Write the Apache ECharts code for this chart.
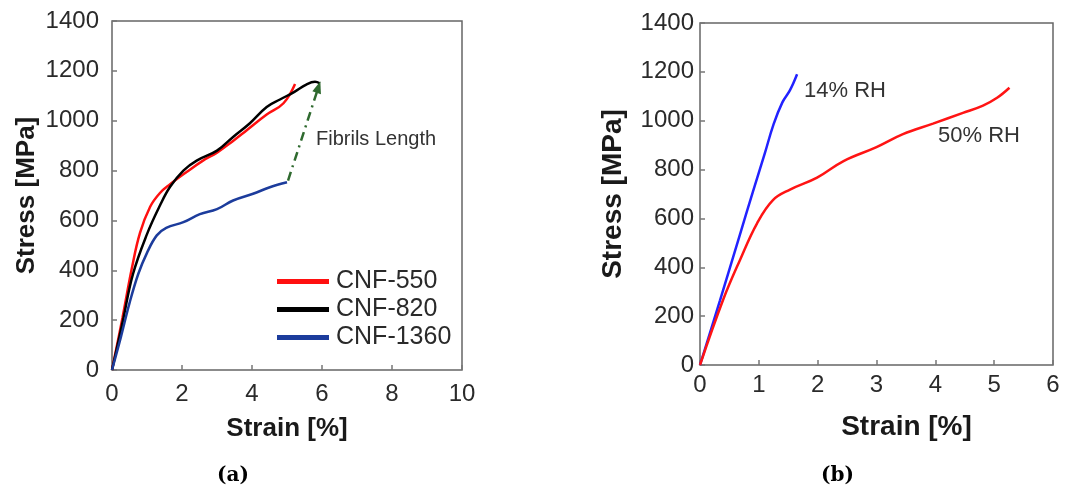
<!DOCTYPE html>
<html>
<head>
<meta charset="utf-8">
<script src="https://cdn.jsdelivr.net/npm/echarts@6/dist/echarts.min.js"></script>
<style>
  html, body { margin: 0; padding: 0; background: #fff; }
  #chart { width: 1067px; height: 498px; }
</style>
</head>
<body>
<div id="chart"></div>
<script>
// panel (a): strain [%], stress [MPa]
var cnf550 = [[0,0],[0.3,210],[0.57,410],[0.8,550],[1.09,655],[1.37,710],[1.66,745],[2.13,794],[2.6,840],[3.0,872],[3.45,918],[3.85,962],[4.42,1025],[4.9,1070],[5.23,1147]];
var cnf820 = [[0,0],[0.3,190],[0.6,385],[1.0,545],[1.37,660],[1.66,735],[2.04,800],[2.42,840],[3.0,880],[3.46,935],[3.94,990],[4.42,1055],[4.8,1085],[5.2,1115],[5.55,1145],[5.8,1156],[5.94,1150]];
var cnf1360 = [[0,0],[0.25,130],[0.5,268],[0.75,385],[1.0,470],[1.28,540],[1.55,570],[2.04,593],[2.51,625],[3.0,645],[3.46,680],[4.03,707],[4.51,733],[5.0,753]];
var arrowStart = [5.03, 760];
var arrowEnd = [5.9, 1135];

// panel (b)
var rh14 = [[0,0],[0.34,265],[0.68,535],[0.9,710],[1.1,865],[1.25,985],[1.4,1075],[1.53,1125],[1.65,1190]];
var rh50 = [[0,0],[0.39,265],[0.68,430],[0.97,580],[1.24,675],[1.53,718],[1.99,767],[2.44,835],[3.0,892],[3.45,945],[3.96,988],[4.47,1032],[4.81,1062],[5.05,1094],[5.26,1135]];

var chart = echarts.init(document.getElementById('chart'));

var tickFont = { fontFamily: 'Arial, Liberation Sans', fontSize: 24, color: '#2a2a2a' };

function plain(v) { return String(v); }

function xAx(idx, max, interval, nameGap, pad, margin, nameSize) {
    return {
        gridIndex: idx, type: 'value', min: 0, max: max, interval: interval,
        name: 'Strain [%]', nameLocation: 'middle', nameGap: nameGap,
        nameTextStyle: { padding: pad, fontFamily: 'Arial, Liberation Sans', fontWeight: 'bold', fontSize: nameSize, color: '#1a1a1a' },
        axisLine: { show: false },
        axisTick: { inside: true, length: 5, lineStyle: { color: '#777', width: 1.5 } },
        axisLabel: Object.assign({ margin: margin, formatter: plain }, tickFont),
        splitLine: { show: false }
    };
}
function yAx(idx, nameGap, margin, nameSize) {
    return {
        gridIndex: idx, type: 'value', min: 0, max: 1400, interval: 200,
        name: 'Stress [MPa]', nameLocation: 'middle', nameGap: nameGap,
        nameTextStyle: { fontFamily: 'Arial, Liberation Sans', fontWeight: 'bold', fontSize: nameSize, color: '#1a1a1a' },
        axisLine: { show: false },
        axisTick: { inside: true, length: 5, lineStyle: { color: '#777', width: 1.5 } },
        axisLabel: Object.assign({ margin: margin, formatter: plain }, tickFont),
        splitLine: { show: false }
    };
}

var option = {
    backgroundColor: '#fff',
    animation: false,
    grid: [
        { left: 112, top: 21, width: 350, height: 349, show: true, borderColor: '#666', borderWidth: 1.5 },
        { left: 700, top: 23, width: 353, height: 342, show: true, borderColor: '#666', borderWidth: 1.5 }
    ],
    xAxis: [xAx(0, 10, 2, 46, [0, 0, 0, 0], 12, 26), xAx(1, 6, 1, 48, [0, 0, 0, 60], 8, 28)],
    yAxis: [yAx(0, 72, 13, 26), yAx(1, 73, 6, 28)],
    legend: {
        orient: 'vertical', left: 272, top: 264, itemGap: 3,
        icon: 'rect', itemWidth: 52, itemHeight: 5,
        textStyle: { fontFamily: 'Arial, Liberation Sans', fontSize: 25, color: '#2a2a2a', padding: [0, 0, 0, 2] },
        data: ['CNF-550', 'CNF-820', 'CNF-1360']
    },
    series: [
        { name: 'CNF-550', type: 'line', xAxisIndex: 0, yAxisIndex: 0, data: cnf550, smooth: 0.4,
          showSymbol: false, color: '#ff1010', lineStyle: { width: 2.5 } },
        { name: 'CNF-820', type: 'line', xAxisIndex: 0, yAxisIndex: 0, data: cnf820, smooth: 0.4,
          showSymbol: false, color: '#000000', lineStyle: { width: 2.5 } },
        { name: 'CNF-1360', type: 'line', xAxisIndex: 0, yAxisIndex: 0, data: cnf1360, smooth: 0.4,
          showSymbol: false, color: '#1c3c9c', lineStyle: { width: 2.5 },
          markLine: {
              silent: true, symbol: ['none', 'triangle'], symbolSize: [9, 12],
              label: { show: false },
              lineStyle: { color: '#2f6a2f', width: 2.5, type: [9, 5, 2, 5] },
              data: [[{ coord: arrowStart }, { coord: arrowEnd }]]
          } },
        { name: '14% RH', type: 'line', xAxisIndex: 1, yAxisIndex: 1, data: rh14, smooth: 0.4,
          showSymbol: false, color: '#2222ff', lineStyle: { width: 2.5 } },
        { name: '50% RH', type: 'line', xAxisIndex: 1, yAxisIndex: 1, data: rh50, smooth: 0.4,
          showSymbol: false, color: '#ff1414', lineStyle: { width: 2.5 } }
    ],
    graphic: [
        { type: 'text', left: 316, top: 129, style: { text: 'Fibrils Length', fontFamily: 'Arial, Liberation Sans', fontSize: 20, fill: '#333' } },
        { type: 'text', left: 804, top: 80, style: { text: '14% RH', fontFamily: 'Arial, Liberation Sans', fontSize: 22, fill: '#333' } },
        { type: 'text', left: 938, top: 125, style: { text: '50% RH', fontFamily: 'Arial, Liberation Sans', fontSize: 22, fill: '#333' } },
        { type: 'text', left: 217, top: 466, style: { text: '(a)', fontFamily: 'DejaVu Serif', fontWeight: 'bold', fontSize: 20, fill: '#000' } },
        { type: 'text', left: 821, top: 466, style: { text: '(b)', fontFamily: 'DejaVu Serif', fontWeight: 'bold', fontSize: 20, fill: '#000' } }
    ]
};

chart.setOption(option);
</script>
</body>
</html>
